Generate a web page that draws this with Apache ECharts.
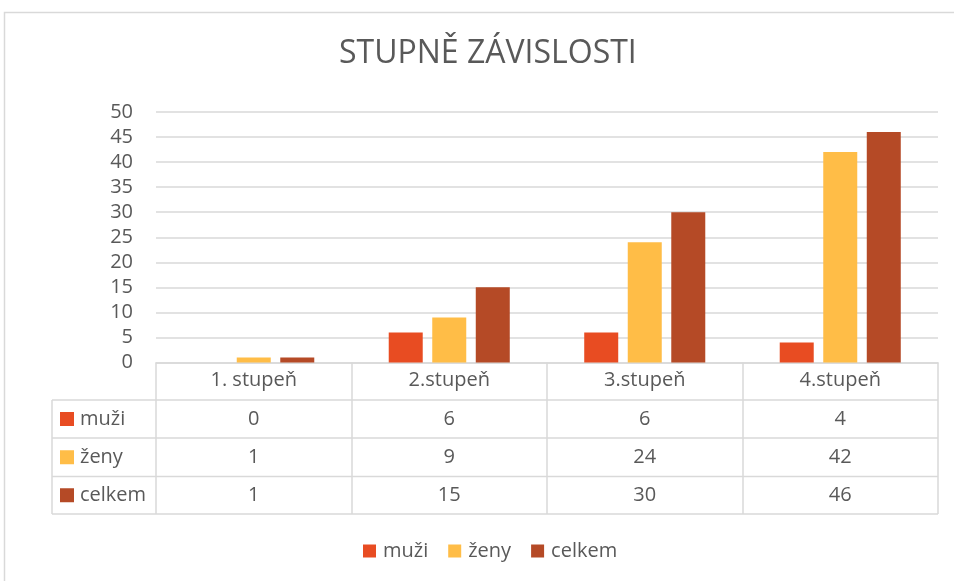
<!DOCTYPE html>
<html><head><meta charset="utf-8">
<script src="https://cdn.jsdelivr.net/npm/echarts@6/dist/echarts.min.js"></script>
<style>html,body{margin:0;padding:0;background:#fff}#c{width:954px;height:581px}</style>
</head><body><div id="c"></div>
<script>
const titleText = 'STUPNĚ ZÁVISLOSTI';
const categories = ['1. stupeň', '2.stupeň', '3.stupeň', '4.stupeň'];
const seriesNames = ['muži', 'ženy', 'celkem'];
const muzi = [0, 6, 6, 4];
const zeny = [1, 9, 24, 42];
const celkem = [1, 15, 30, 46];
const colors = ['#E84C22', '#FFBD47', '#B54A26'];
const FONT = 'Open Sans';
const TXT = '#595959';
const LINE = '#d9d9d9';

const chart = echarts.init(document.getElementById('c'), null, {renderer: 'canvas'});
const seriesData = [muzi, zeny, celkem];

const option = {
  animation: false,
  backgroundColor: '#fff',
  color: colors,
  title: {
    text: titleText, left: 339, top: 38, padding: 0,
    textStyle: {fontFamily: FONT, fontSize: 32, fontWeight: 'normal', color: TXT}
  },
  legend: {
    data: seriesNames, left: 363, top: 541, padding: 0,
    icon: 'rect', itemWidth: 13, itemHeight: 13, itemGap: 20,
    textStyle: {fontFamily: FONT, fontSize: 20, color: TXT, padding: [0, 0, 0, 2]}
  },
  grid: {left: 156, right: 16, top: 112, bottom: 218.5, containLabel: false},
  xAxis: {
    type: 'category', data: categories,
    axisLine: {show: true, lineStyle: {color: LINE, width: 1.5}},
    axisTick: {show: true, length: 151.5, lineStyle: {color: LINE, width: 1.5}},
    axisLabel: {fontFamily: FONT, fontSize: 20, color: TXT, margin: 8}
  },
  yAxis: {
    type: 'value', min: 0, max: 50, interval: 5,
    axisLine: {show: false}, axisTick: {show: false},
    axisLabel: {fontFamily: FONT, fontSize: 20, color: TXT, margin: 23},
    splitLine: {lineStyle: {color: LINE, width: 1.5}}
  },
  series: seriesNames.map((n, i) => ({
    name: n, type: 'bar', data: seriesData[i],
    barWidth: 34, barGap: '28%'
  }))
};
chart.setOption(option);

// data table drawn from the arrays, positioned via the axis scale
const rowYs = [400, 438, 476.5, 514];
const tableLeft = 52, tableRight = 938;
const g = [];
g.push({type: 'rect', shape: {x: 4.5, y: 12.5, width: 1000, height: 700}, style: {fill: 'none', stroke: LINE, lineWidth: 1.5}, z: -10});
rowYs.forEach(y => g.push({type: 'line', shape: {x1: tableLeft, y1: y, x2: tableRight, y2: y}, style: {stroke: LINE, lineWidth: 1.5}}));
g.push({type: 'line', shape: {x1: tableLeft, y1: rowYs[0], x2: tableLeft, y2: rowYs[3]}, style: {stroke: LINE, lineWidth: 1.5}});
seriesNames.forEach((n, r) => {
  const yc = (rowYs[r] + rowYs[r + 1]) / 2;
  g.push({type: 'rect', shape: {x: 60, y: yc - 7, width: 14, height: 14}, style: {fill: colors[r]}});
  g.push({type: 'text', x: 80, y: yc, style: {text: n, font: '20px "' + FONT + '"', fill: TXT, textVerticalAlign: 'middle', verticalAlign: 'middle'}});
  seriesData[r].forEach((v, i) => {
    const xc = chart.convertToPixel({xAxisIndex: 0}, i);
    g.push({type: 'text', x: xc, y: yc, style: {text: String(v), font: '20px "' + FONT + '"', fill: TXT, align: 'center', verticalAlign: 'middle', textAlign: 'center', textVerticalAlign: 'middle'}});
  });
});
chart.setOption({graphic: g});
</script></body></html>
